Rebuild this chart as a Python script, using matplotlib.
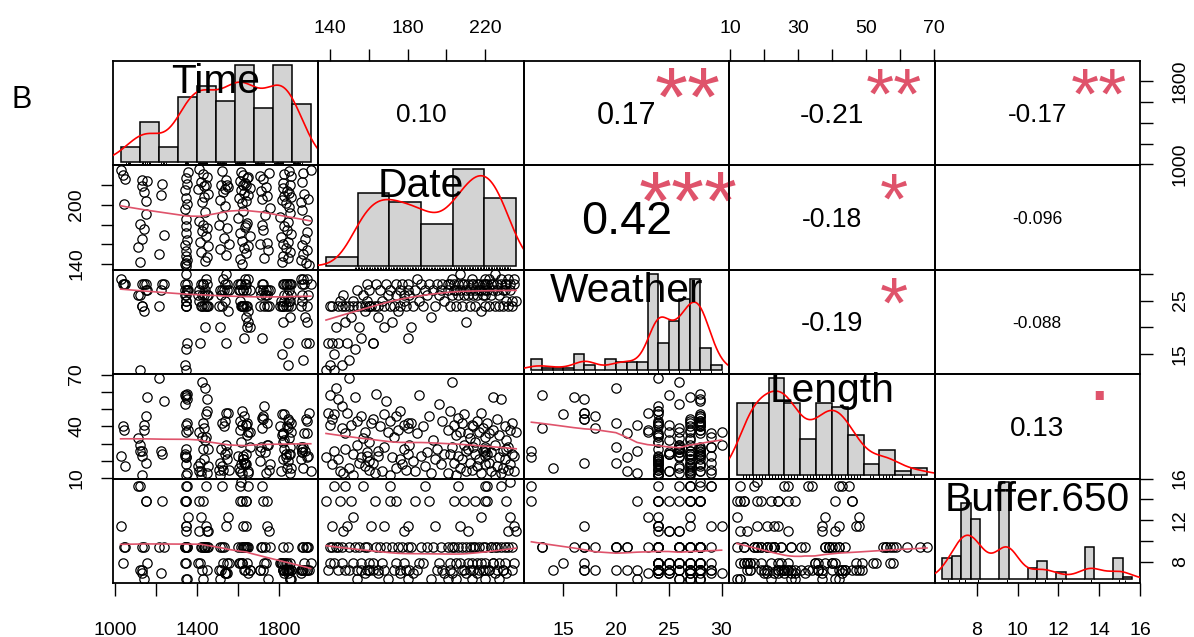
import numpy as np
import matplotlib
matplotlib.use("Agg")
import matplotlib.pyplot as plt
import matplotlib.transforms as mtransforms
from matplotlib.font_manager import FontProperties
from matplotlib.textpath import TextPath

FONT = ['Liberation Sans', 'DejaVu Sans']
plt.rcParams['font.family'] = FONT

# ---------------------------------------------------------------- data
var_names = ["Time", "Date", "Weather", "Length", "Buffer.650"]

time_hhmm = [
    1345, 1945, 1342, 1620,
    1930, 1345, 1815, 1120, 1440, 1905, 1350, 1610, 1840, 1725, 1450, 1820, 1345, 1540, 1915, 1215,
    1640, 1850, 1420, 1345, 1745, 1935, 1510, 1630, 1830, 1115, 1455, 1650, 1910, 1340, 1820, 1555, 1705,
    1740, 1415, 1840, 1620, 1350, 1925, 1130, 1530, 1810, 1445, 1655, 1240, 1855, 1345, 1610, 1935,
    1425, 1720, 1835, 1140, 1545, 1450, 1635, 1348, 1825, 1505, 1715, 1640, 1430,
    1120, 1645, 1840, 1410, 1935, 1345, 1600, 1805, 1520, 1730, 1150, 1850, 1440, 1625, 1910, 1340,
    1755, 1845, 1535,
    1045, 1350, 1620, 1830, 1425, 1905, 1150, 1640, 1815, 1510, 1715, 1940, 1345, 1605, 1855, 1435,
    1740, 1825, 1225, 1650, 1920, 1455, 1630, 1845, 1140, 1525, 1710, 1835, 1342, 1615, 1535, 1405,
    1655, 1820, 1550, 1735, 1130, 1435, 1640, 1850, 1445, 1625, 1545, 1515,
    1230, 1350, 1635, 1820, 1420, 1910, 1155, 1610, 1130, 1540, 1720, 1050, 1345, 1645, 1650, 1450,
    1705, 1855, 1040, 1625, 1825, 1430, 1750, 1915, 1355, 1615, 1845, 1520, 1028, 1953, 1410,
]

day_of_year = [
    138, 139, 140, 140,
    141, 141, 142, 142, 143, 144, 144, 145, 146, 146, 147, 148, 148, 149, 150, 150, 151, 152, 152, 153,
    154, 154, 155, 156, 156, 157, 158, 158, 159, 159, 160, 160, 160,
    161, 162, 162, 163, 164, 165, 165, 166, 167, 168, 168, 169, 170, 171, 171, 172, 173, 174, 174, 175,
    176, 176, 177, 178, 178, 179, 180, 180, 180,
    181, 182, 183, 184, 185, 186, 187, 188, 189, 190, 191, 192, 193, 194, 195, 196, 197, 198, 199,
    201, 201, 202, 202, 203, 203, 204, 204, 205, 205, 206, 206, 207, 207, 208, 208, 209, 209, 210, 210,
    211, 211, 212, 212, 213, 213, 214, 214, 215, 215, 216, 216, 217, 217, 218, 218, 219, 219,
    220, 220, 220, 220, 220, 220,
    221, 221, 222, 222, 223, 223, 224, 224, 225, 225, 226, 226, 227, 227, 228, 228, 229, 229, 230, 230,
    231, 231, 232, 232, 233, 233, 234, 234, 235, 235, 236,
]

weather = [
    12, 17, 13, 24,
    17, 24, 15, 12, 20, 24, 17, 25, 13, 24, 26, 21, 24, 17, 14, 24, 22, 25, 24, 16, 27, 24, 20, 18,
    24, 26, 24, 23, 25, 28, 24, 27, 24,
    24, 17, 17, 24, 28, 22, 24, 27, 25, 24, 20, 28, 26, 24, 27, 21, 24, 28, 26, 23, 27, 24, 28, 25,
    26, 24, 18, 27, 28,
    26, 20, 24, 27, 29, 25, 28, 24, 27, 26, 28, 22, 27, 24, 28, 26, 27, 28, 25,
    28, 27, 24, 28, 26, 29, 27, 28, 24, 27, 28, 26, 30, 27, 28, 24, 26, 28, 27, 21, 28, 26, 24, 27,
    28, 29, 26, 28, 27, 24, 28, 26, 27, 28, 23, 27, 28, 26, 24, 28, 29, 27, 28, 26,
    28, 27, 29, 24, 28, 26, 27, 28, 24, 30, 27, 28, 26, 24, 29, 28, 27, 24, 28, 27, 25, 28, 24, 29,
    27, 28, 25, 24, 29, 28, 25,
]

length = [
    22, 48, 58, 41,
    44, 18, 47, 26, 62, 21, 56, 14, 39, 52, 13, 36, 27, 48, 16, 68, 41, 24, 12, 57, 29, 43, 19, 46,
    22, 33, 17, 37, 25, 23, 31, 15, 20,
    42, 19, 44, 13, 59, 26, 23, 40, 14, 47, 28, 55, 37, 12, 43, 22, 34, 46, 16, 38, 21, 49, 18, 41,
    27, 15, 39, 24, 42,
    29, 42, 20, 14, 36, 58, 23, 40, 17, 25, 46, 13, 32, 21, 27, 53, 18, 43, 24,
    38, 13, 49, 24, 66, 28, 19, 41, 35, 12, 45, 23, 37, 16, 42, 21, 29, 47, 26, 14, 36, 27, 19, 33,
    41, 15, 28, 40, 24, 31, 43, 17, 37, 21, 48, 13, 26, 39, 18, 28, 34, 23, 25, 27,
    24, 42, 19, 36, 14, 25, 57, 38, 12, 29, 44, 17, 22, 35, 13, 56, 26, 16, 40, 21, 32, 27, 15, 28,
    38, 18, 24, 42, 23, 14, 37,
]

buffer_650 = [
    13.8, 7.2, 9.4, 7.9,
    9.4, 11.4, 7.9, 15.3, 9.4, 7.2, 9.4, 13.8, 9.4, 7.9, 10.9, 7.2, 15.3, 11.4, 7.2, 9.4, 13.8, 7.9,
    12.3, 9.4, 6.3, 7.2, 9.4, 7.2, 7.9, 15.3, 9.4, 6.9, 7.2, 9.4, 7.2, 7.9, 7.2,
    11.4, 7.9, 7.2, 13.8, 9.4, 7.2, 6.9, 9.4, 7.9, 11.4, 7.2, 9.4, 6.3, 13.8, 15.3, 9.4, 7.2, 13.8,
    7.9, 9.4, 6.9, 7.2, 9.4, 10.9, 7.9, 7.2, 9.4, 11.4, 6.3,
    7.2, 9.4, 6.9, 13.8, 7.2, 7.9, 9.4, 7.9, 15.3, 9.4, 13.8, 6.3, 9.4, 11.4, 7.2, 7.9, 9.4, 7.2, 6.9,
    9.4, 6.3, 7.9, 7.2, 9.4, 6.9, 13.8, 9.4, 7.9, 6.3, 15.3, 9.4, 11.4, 7.9, 7.2, 9.4, 13.8, 7.2,
    6.9, 9.4, 7.9, 10.9, 9.4, 7.2, 6.3, 7.9, 9.4, 7.2, 13.8, 9.4, 6.9, 7.9, 7.2, 9.4, 12.3, 7.9,
    7.2, 9.4, 13.8, 6.3, 15.3, 9.4, 7.9, 7.2,
    13.8, 15.3, 7.2, 7.2, 9.4, 9.4, 7.9, 7.9, 9.4, 6.9, 7.2, 9.4, 6.3, 7.9, 15.3, 9.4, 7.2, 7.2,
    7.9, 9.4, 6.9, 13.8, 10.9, 9.4, 12.3, 15.6, 7.2, 9.4, 11.4, 7.9, 10.9,
]

# Pearson r and significance codes of the upper panels, row by row
cor_r = [0.10, 0.17, -0.21, -0.17, 0.42, -0.18, -0.096, -0.19, -0.088, 0.13]
cor_stars = ["", "**", "**", "**", "***", "*", "", "*", "", "."]

# histogram breaks: start, stop, step
hist_breaks = [(1000, 2000, 100), (120, 240, 20), (12, 30, 1), (10, 70, 5), (6, 16, 0.5)]

# axis ticks, and which of them carry a label
tick_values = [[1000, 1200, 1400, 1600, 1800], [140, 160, 180, 200, 220], [15, 20, 25, 30],
               [10, 20, 30, 40, 50, 60, 70], [8, 10, 12, 14, 16]]
x_labelled = [[1000, 1400, 1800], [140, 180, 220], [15, 20, 25, 30], [10, 30, 50, 70], [8, 10, 12, 14, 16]]
y_labelled = [[1000, 1800], [140, 200], [15, 25], [10, 40, 70], [8, 12, 16]]

variables = [np.asarray(v, float) for v in (time_hhmm, day_of_year, weather, length, buffer_650)]

# ---------------------------------------------------------------- helpers
SMOOTH_COL = '#DF536B'


def _lowest(x, y, xs, nleft, nright, rw, userw):
    n = len(x)
    rng = x[-1] - x[0]
    h = max(xs - x[nleft], x[nright] - xs)
    h9, h1 = 0.999 * h, 0.001 * h
    w = np.zeros(n)
    a = 0.0
    j = nleft
    while j < n:
        r = abs(x[j] - xs)
        if r <= h9:
            w[j] = 1.0 if r <= h1 else (1 - (r / h) ** 3) ** 3
            if userw:
                w[j] *= rw[j]
            a += w[j]
        elif x[j] > xs:
            break
        j += 1
    nrt = j - 1
    if a <= 0:
        return 0.0, False
    sl = slice(nleft, nrt + 1)
    w[sl] /= a
    if h > 0:
        a = np.sum(w[sl] * x[sl])
        b = xs - a
        c = np.sum(w[sl] * (x[sl] - a) ** 2)
        if np.sqrt(c) > 0.001 * rng:
            b /= c
            w[sl] *= (b * (x[sl] - a) + 1.0)
    return float(np.sum(w[sl] * y[sl])), True


def lowess(x, y, f=2 / 3, nsteps=3):
    o = np.argsort(x, kind='stable')
    x = np.asarray(x, float)[o]
    y = np.asarray(y, float)[o]
    n = len(x)
    ns = max(2, min(n, int(f * n + 1e-7)))
    delta = 0.01 * (x[-1] - x[0])
    rw = np.ones(n)
    ys = np.zeros(n)
    for it in range(nsteps + 1):
        nleft, nright, last, i = 0, ns - 1, -1, 0
        while True:
            if nright < n - 1:
                if x[i] - x[nleft] > x[nright + 1] - x[i]:
                    nleft += 1
                    nright += 1
                    continue
            val, ok = _lowest(x, y, x[i], nleft, nright, rw, it > 0)
            ys[i] = val if ok else y[i]
            if last < i - 1:
                denom = x[i] - x[last]
                for j in range(last + 1, i):
                    al = (x[j] - x[last]) / denom
                    ys[j] = al * ys[i] + (1 - al) * ys[last]
            last = i
            cut = x[last] + delta
            i = last + 1
            while i < n:
                if x[i] > cut:
                    break
                if x[i] == x[last]:
                    ys[i] = ys[last]
                    last = i
                i += 1
            i = max(last + 1, i - 1)
            if last >= n - 1:
                break
        res = y - ys
        if it == nsteps:
            break
        sc = np.mean(np.abs(res))
        cmad = 6 * np.median(np.abs(res))
        if cmad < 1e-7 * sc:
            break
        r = np.abs(res)
        rw = np.where(r <= 0.001 * cmad, 1.0,
                      np.where(r <= 0.999 * cmad, (1 - (r / cmad) ** 2) ** 2, 0.0))
    return x, ys


def kde(x):
    n = len(x)
    sd = np.std(x, ddof=1)
    q75, q25 = np.percentile(x, [75, 25])
    lo = min(sd, (q75 - q25) / 1.34)
    if lo <= 0:
        lo = sd
    bw = 0.9 * lo * n ** -0.2
    g = np.linspace(x.min() - 3 * bw, x.max() + 3 * bw, 512)
    d = np.exp(-0.5 * ((g[:, None] - x[None, :]) / bw) ** 2).sum(axis=1) / (n * bw * np.sqrt(2 * np.pi))
    return g, d


def r_format(r):
    d = max(2, 1 - int(np.floor(np.log10(abs(r)))))
    return f"{r:.{d}f}"


# ---------------------------------------------------------------- figure
W, H, DPI = 1194, 637, 100
fig = plt.figure(figsize=(W / DPI, H / DPI), dpi=DPI)
renderer = fig.canvas.get_renderer()

L, R, T, B = 113, 1140, 61, 583
n = len(variables)
pw = (R - L) / n
ph = (B - T) / n


def text_width(s, fs):
    fp = FontProperties(family=FONT, size=fs)
    w, _, _ = renderer.get_text_width_height_descent(s, fp, ismath=False)
    return w


def centered_text(ax, x, y, s, fs, color):
    """Draw s centred on its glyph box at axes fraction (x, y)."""
    fp = FontProperties(family=FONT, size=fs)
    ext = TextPath((0, 0), s, prop=fp).get_extents()
    dy = -(ext.y0 + ext.y1) / 2.0
    tr = ax.transAxes + mtransforms.ScaledTranslation(0, dy / 72.0, fig.dpi_scale_trans)
    ax.text(x, y, s, fontsize=fs, color=color, ha='center', va='baseline',
            transform=tr, fontproperties=fp)


lims = []
for v in variables:
    lo, hi = v.min(), v.max()
    rr = hi - lo
    lims.append((lo - 0.04 * rr, hi + 0.04 * rr))

label_fs = 100 * 0.9 * pw / max(text_width(s, 100) for s in var_names)

TICK_KW = dict(direction='out', length=9, width=1.0, labelsize=14, color='black')
PAD = {'bottom': 19, 'top': 8, 'left': 11, 'right': 14}


def fmt(t):
    return str(int(t)) if float(t).is_integer() else str(t)


k = 0
for i in range(n):
    for j in range(n):
        rect = [(L + j * pw) / W, 1 - (T + (i + 1) * ph) / H, pw / W, ph / H]
        ax = fig.add_axes(rect)
        ax.set_xlim(lims[j])
        ax.set_ylim(lims[i])
        ax.set_xticks([])
        ax.set_yticks([])
        for sp in ax.spines.values():
            sp.set_linewidth(1.3)
            sp.set_color('black')
        ax.set_facecolor('none')

        # outer axes, alternating sides as in a pairs plot
        if i == n - 1 and j % 2 == 0:
            ax.set_xticks(tick_values[j])
            ax.set_xticklabels([fmt(t) if t in x_labelled[j] else "" for t in tick_values[j]])
            ax.tick_params(axis='x', pad=PAD['bottom'], **TICK_KW)
        if i == 0 and j % 2 == 1:
            ax.xaxis.tick_top()
            ax.set_xticks(tick_values[j])
            ax.set_xticklabels([fmt(t) if t in x_labelled[j] else "" for t in tick_values[j]])
            ax.tick_params(axis='x', pad=PAD['top'], **TICK_KW)
        if j == 0 and i % 2 == 1:
            ax.set_yticks(tick_values[i])
            ax.set_yticklabels([fmt(t) if t in y_labelled[i] else "" for t in tick_values[i]],
                               rotation=90, va='center')
            ax.tick_params(axis='y', pad=PAD['left'], **TICK_KW)
        if j == n - 1 and i % 2 == 0:
            ax.yaxis.tick_right()
            ax.set_yticks(tick_values[i])
            ax.set_yticklabels([fmt(t) if t in y_labelled[i] else "" for t in tick_values[i]],
                               rotation=90, va='center')
            ax.tick_params(axis='y', pad=PAD['right'], **TICK_KW)

        if i == j:
            # histogram with density curve and rug, on its own scale
            x = variables[i]
            start, stop, step = hist_breaks[i]
            edges = np.arange(start, stop + step / 2, step)
            idx = np.searchsorted(edges, x, side='left') - 1
            idx[idx < 0] = 0
            counts = np.bincount(idx, minlength=len(edges) - 1)[:len(edges) - 1]
            dens = counts / (len(x) * step)
            axh = fig.add_axes(rect, frameon=False)
            axh.set_axis_off()
            xr = edges[-1] - edges[0]
            axh.set_xlim(edges[0] - 0.04 * xr, edges[-1] + 0.04 * xr)
            m = dens.max()
            axh.set_ylim(-0.04 * m, 1.04 * m)
            axh.bar(edges[:-1], dens, width=step, align='edge', color='#D3D3D3',
                    edgecolor='black', linewidth=1.1)
            gx, gy = kde(x)
            axh.plot(gx, gy, color='red', lw=1.2)
            y0, y1 = axh.get_ylim()
            axh.vlines(x, y0, y0 + 0.03 * (y1 - y0), color='black', lw=0.7)
            centered_text(axh, 0.5, 0.8333, var_names[i], label_fs, 'black')
        elif i > j:
            x, y = variables[j], variables[i]
            ax.plot(x, y, 'o', mfc='none', mec='black', ms=6.7, mew=0.9, ls='none')
            sx, sy = lowess(x, y)
            ax.plot(sx, sy, color=SMOOTH_COL, lw=1.2)
        else:
            r = cor_r[k]
            sig = cor_stars[k]
            k += 1
            txt = r_format(r)
            base = 100 * 0.8 * pw / text_width(txt, 100)
            centered_text(ax, 0.5, 0.5, txt, base * (abs(r) + 0.3) / 1.3, 'black')
            if sig:
                centered_text(ax, 0.8, 0.8, sig, base, SMOOTH_COL)

fig.text(12 / W, 1 - 100 / H, "B", fontsize=22, ha='left', va='center')

fig.savefig("out.png", dpi=DPI)
